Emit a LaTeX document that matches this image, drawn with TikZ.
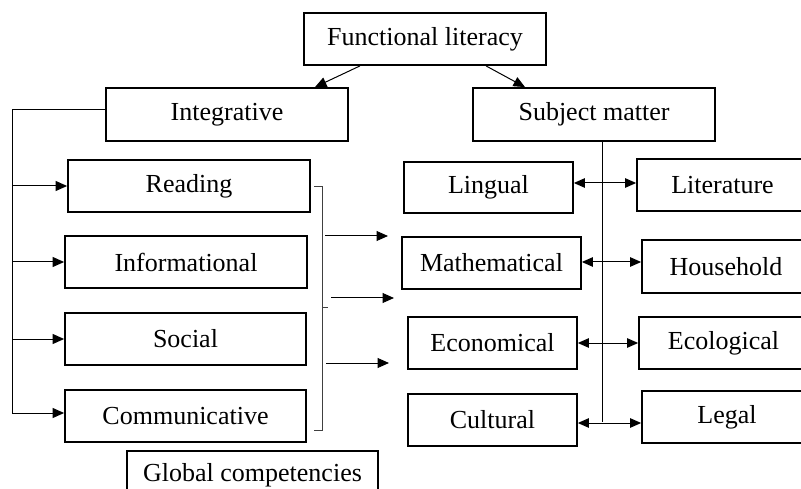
\documentclass[tikz,border=0pt]{standalone}
\usepackage{fontspec}
\setmainfont{Liberation Serif}
\usetikzlibrary{arrows.meta}
\tikzset{
  box/.style={draw=black, line width=1.8pt, rectangle, inner sep=0pt, font=\fontsize{26}{30}\selectfont},
  conn/.style={draw=black, line width=1pt},
  arr/.style={conn, -{Triangle[length=11.5pt,width=10pt]}},
  darr/.style={conn, {Triangle[length=11pt,width=9.5pt]}-{Triangle[length=11pt,width=9.5pt]}},
  brace/.style={draw=black!75, line width=1pt}
}
\begin{document}
\begin{tikzpicture}[x=1pt,y=-1pt]
\useasboundingbox (0,0) rectangle (801,489);
\clip (0,0) rectangle (801,489);
\fill[white] (0,0) rectangle (801,489);
% top
\node[box, minimum width=242pt, minimum height=52pt] (func) at (425,39) {Functional literacy};
\node[box, minimum width=242pt, minimum height=53pt] (integ) at (227,114.5) {Integrative};
\node[box, minimum width=242pt, minimum height=53pt] (subj) at (594,114.5) {Subject matter};
% left column
\node[box, minimum width=242pt, minimum height=52pt] (reading) at (189,186) {Reading};
\node[box, minimum width=242pt, minimum height=52pt] (info) at (186,262) {Informational};
\node[box, minimum width=241pt, minimum height=52pt] (social) at (185.5,339) {Social};
\node[box, minimum width=241pt, minimum height=52pt] (comm) at (185.5,416) {Communicative};
\node[box, minimum width=251pt, minimum height=49pt] (global) at (252.5,475.5) {Global competencies};
% middle column
\node[box, minimum width=169pt, minimum height=51pt] (lingual) at (488.5,187.5) {Lingual};
\node[box, minimum width=179pt, minimum height=52pt] (math) at (491.5,263) {Mathematical};
\node[box, minimum width=169pt, minimum height=52pt] (econ) at (492.5,343) {Economical};
\node[box, minimum width=169pt, minimum height=52pt] (cult) at (492.5,420) {Cultural};
% right column
\node[box, minimum width=171pt, minimum height=52pt] (lit) at (722.5,185) {Literature};
\node[box, minimum width=168pt, minimum height=53pt] (house) at (726,266.5) {Household};
\node[box, minimum width=169pt, minimum height=52pt] (eco) at (723.5,343) {Ecological};
\node[box, minimum width=170pt, minimum height=52pt] (legal) at (727,417) {Legal};
% top arrows
\draw[arr] ([xshift=-65pt]func.south) -- ([xshift=88pt]integ.north);
\draw[arr] ([xshift=61pt]func.south) -- ([xshift=-69pt]subj.north);
% left bracket
\coordinate (lbend) at (12,413);
\draw[conn] ([yshift=4.5pt]integ.west) -| (lbend);
\draw[arr] (reading.west -| lbend) -- (reading.west);
\draw[arr] (info.west -| lbend) -- (info.west);
\draw[arr] (social.west -| lbend) -- (social.west);
\draw[arr] (lbend) -- (lbend -| comm.west);
% right brace
\coordinate (b1) at (314,187);
\coordinate (b2) at (322,187);
\coordinate (b3) at (322,430);
\coordinate (b4) at (314,430);
\coordinate (bm1) at (322,308);
\coordinate (bm2) at (328,308);
\draw[brace] (b1) -- (b2) -- (b3) -- (b4);
\draw[brace] (bm1) -- (bm2);
% loose arrows
\coordinate (a1s) at (325,236); \coordinate (a1e) at (388,236);
\coordinate (a2s) at (331,298); \coordinate (a2e) at (394,298);
\coordinate (a3s) at (326,363); \coordinate (a3e) at (389,363);
\draw[arr] (a1s) -- (a1e);
\draw[arr] (a2s) -- (a2e);
\draw[arr] (a3s) -- (a3e);
% subject matter trunk
\coordinate (trunk) at (602,422);
\draw[conn] ([xshift=8pt]subj.south) -- (trunk);
% double arrows
\draw[darr] ([yshift=4.5pt]lingual.east) -- ([yshift=4.5pt]lingual.east -| lit.west);
\draw[darr] ([yshift=1pt]math.east) -- ([yshift=1pt]math.east -| house.west);
\draw[darr] (econ.east) -- (econ.east -| eco.west);
\draw[darr] ([yshift=-3pt]cult.east) -- ([yshift=-3pt]cult.east -| legal.west);
\end{tikzpicture}
\end{document}
